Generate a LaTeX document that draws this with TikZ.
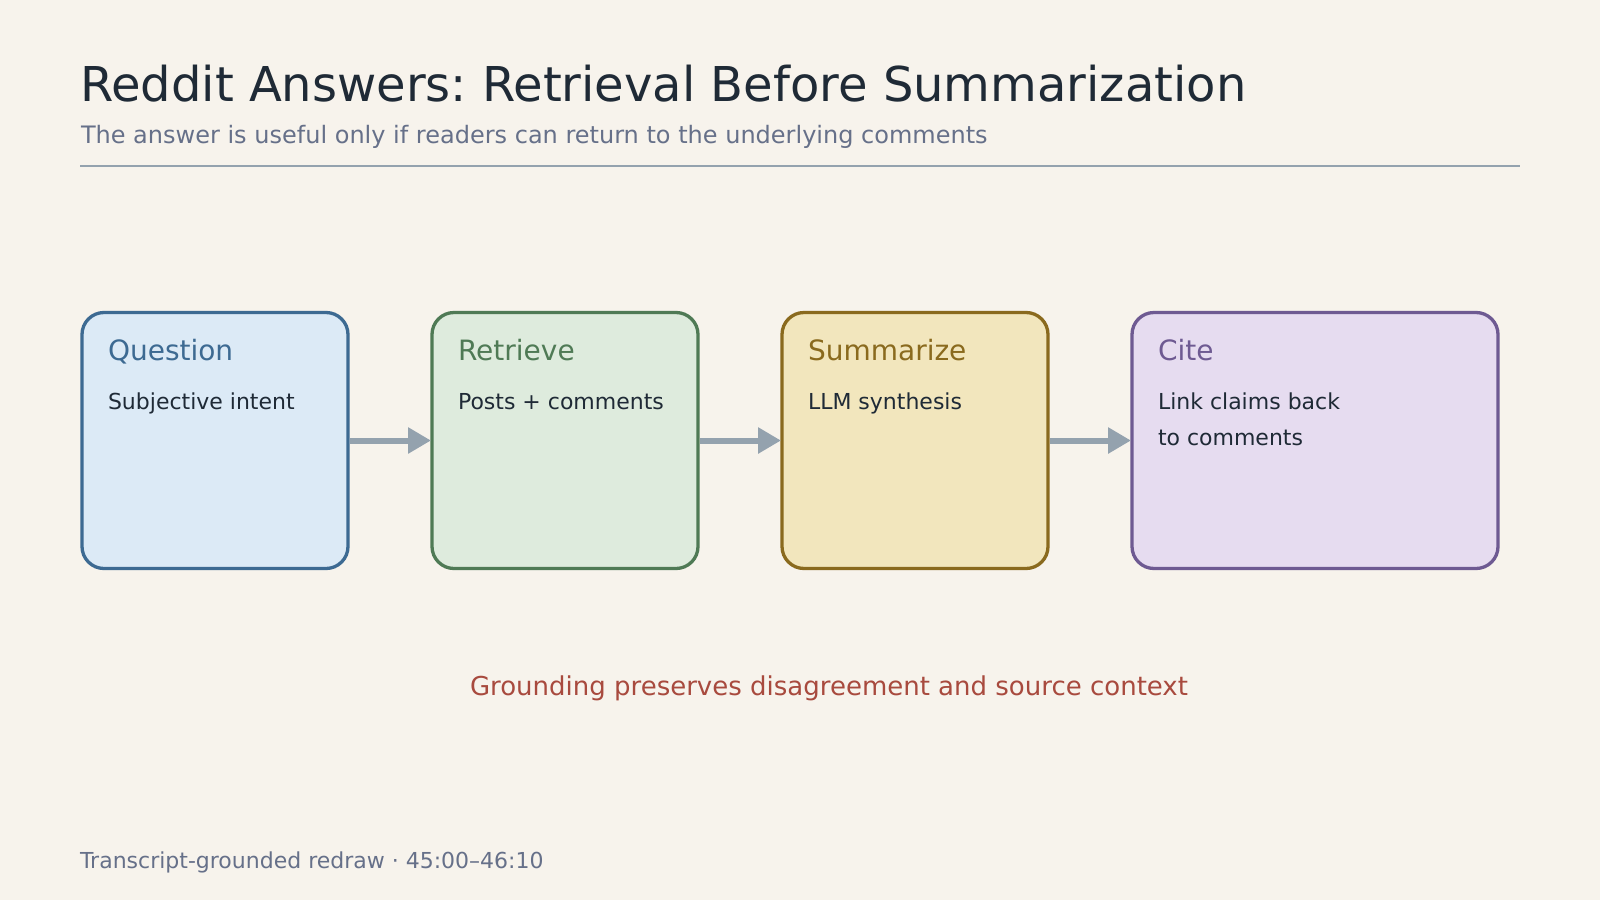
\documentclass[tikz,border=0pt]{standalone}
\usepackage{fontspec}
\setmainfont{DejaVu Sans}
\frenchspacing
\usetikzlibrary{arrows.meta}
\definecolor{bg}{HTML}{F7F3EC}
\definecolor{ink}{HTML}{1F2A36}
\definecolor{muted}{HTML}{667089}
\definecolor{rulec}{HTML}{94A2AE}
\definecolor{qline}{HTML}{3D6A92}\definecolor{qfill}{HTML}{DCEAF6}
\definecolor{rline}{HTML}{4F7A55}\definecolor{rfill}{HTML}{DEEBDD}
\definecolor{sline}{HTML}{8A6A1E}\definecolor{sfill}{HTML}{F2E6BD}
\definecolor{cline}{HTML}{6E5A92}\definecolor{cfill}{HTML}{E6DCF0}
\definecolor{accent}{HTML}{A84A3E}
\tikzset{
  txt/.style={anchor=base west,inner sep=0pt,outer sep=0pt},
  stage/.style={draw=#1,line width=3.3pt,rounded corners=22pt,inner sep=0pt,outer sep=0pt,anchor=north west},
  stagetitle/.style={txt,text=#1,font=\fontsize{28}{32}\selectfont},
  stagebody/.style={txt,text=ink,font=\fontsize{22}{36}\selectfont,align=left},
  flow/.style={draw=rulec,line width=6pt,-{Triangle[length=23pt,width=25pt]},shorten >=1pt,shorten <=1.5pt}
}
\begin{document}
\begin{tikzpicture}[x=1pt,y=-1pt]
\fill[bg] (0,0) rectangle (1600,900);
\useasboundingbox (0,0) rectangle (1600,900);
\node[txt,text=ink,font=\fontsize{48}{56}\selectfont] (title) at (80,101) {Reddit Answers: Retrieval Before Summarization};
\node[txt,text=muted,font=\fontsize{24}{28}\selectfont] (sub) at (81,143) {The answer is useful only if readers can return to the underlying comments};
\coordinate (ruleL) at (80,165.5);
\coordinate (ruleR) at (1520,165.5);
\draw[rulec,line width=2pt] (ruleL) -- (ruleR);
\node[stage=qline,fill=qfill,minimum width=266pt,minimum height=256pt] (q) at (82,312.5) {};
\node[stage=rline,fill=rfill,minimum width=266pt,minimum height=256pt] (r) at (432,312.5) {};
\node[stage=sline,fill=sfill,minimum width=266pt,minimum height=256pt] (s) at (782,312.5) {};
\node[stage=cline,fill=cfill,minimum width=366pt,minimum height=256pt] (c) at (1132,312.5) {};
\node[stagetitle=qline] (qt) at (108,360) {Question};
\node[stagebody] (qb) at (108,409) {Subjective intent};
\node[stagetitle=rline] (rt) at (458,360) {Retrieve};
\node[stagebody] (rb) at (458,409) {Posts + comments};
\node[stagetitle=sline] (st) at (808,360) {Summarize};
\node[stagebody] (sb) at (808,409) {LLM synthesis};
\node[stagetitle=cline] (ct) at (1158,360) {Cite};
\node[stagebody] (cb1) at (1158,409) {Link claims back};
\node[stagebody] (cb2) at (1158,445) {to comments};
\draw[flow] (q.east) -- (r.west);
\draw[flow] (r.east) -- (s.west);
\draw[flow] (s.east) -- (c.west);
\node[txt,text=accent,font=\fontsize{26}{30}\selectfont] (ground) at (470,695) {Grounding preserves disagreement and source context};
\node[txt,text=muted,font=\fontsize{22}{26}\selectfont] (foot) at (80,868) {Transcript-grounded redraw · 45:00–46:10};
\end{tikzpicture}
\end{document}
